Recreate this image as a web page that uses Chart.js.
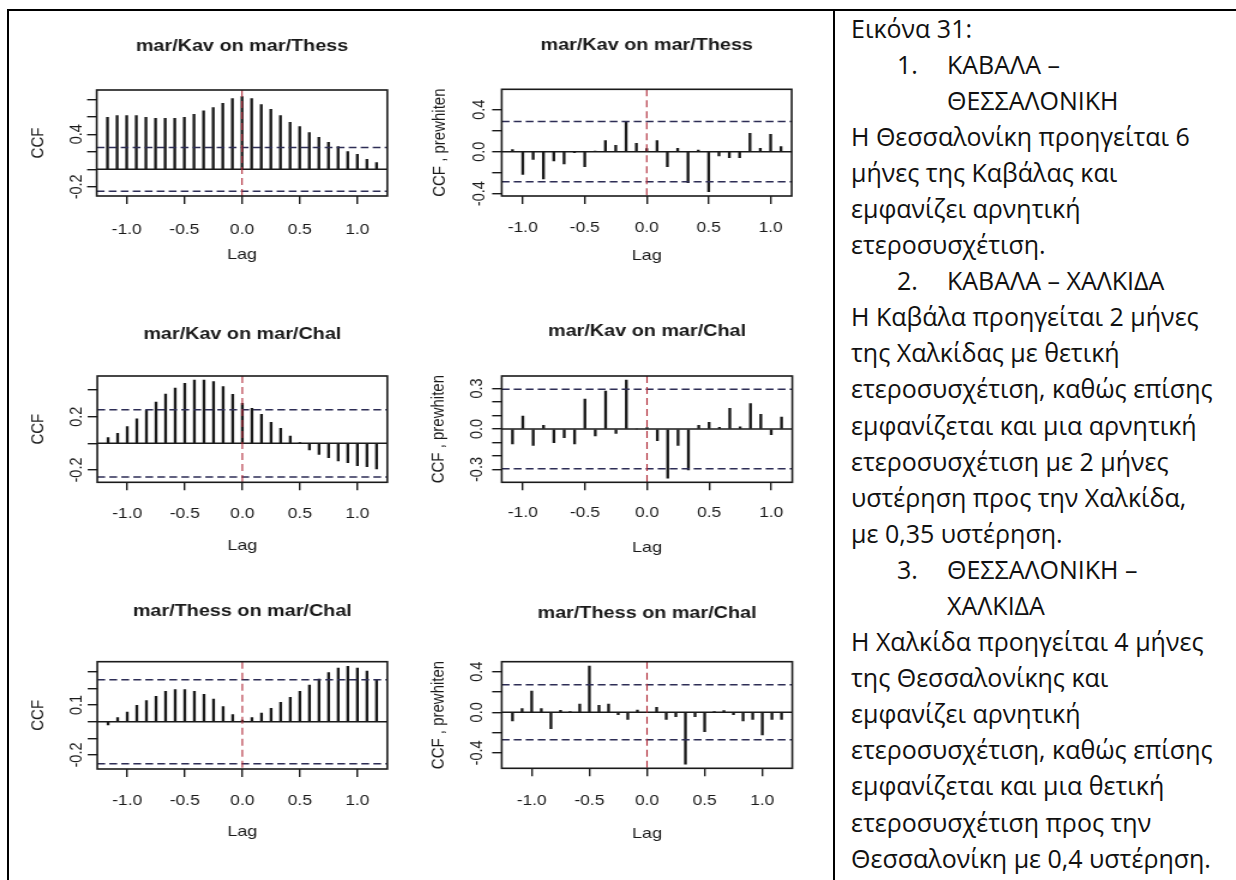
<!DOCTYPE html>
<html>
<head>
<meta charset="utf-8">
<title>CCF</title>
<script src="https://cdn.jsdelivr.net/npm/chart.js@4.4.0/dist/chart.umd.min.js"></script>
<style>
  body { margin: 0; background: #fff; width: 1236px; height: 880px; position: relative; overflow: hidden; }
  .rule { position: absolute; background: #000; }
  .plot { position: absolute; transform-origin: 0 0; }
  .notes { position: absolute; left: 851px; top: 9.5px; font-family: 'Open Sans', sans-serif; font-size: 25px;
           line-height: 36.1px; color: #111; white-space: nowrap; }
  .notes div { position: relative; }
  .notes .item, .notes .cont { padding-left: 96px; }
  .notes .num { position: absolute; left: 46px; }
</style>
</head>
<body>
<div class="rule" style="left:7px;top:9px;width:1229px;height:2px"></div>
<div class="rule" style="left:7px;top:9px;width:2px;height:871px"></div>
<div class="rule" style="left:833px;top:9px;width:2px;height:871px"></div>

<div class="plot" id="w1"><canvas id="c1"></canvas></div>
<div class="plot" id="w2"><canvas id="c2"></canvas></div>
<div class="plot" id="w3"><canvas id="c3"></canvas></div>
<div class="plot" id="w4"><canvas id="c4"></canvas></div>
<div class="plot" id="w5"><canvas id="c5"></canvas></div>
<div class="plot" id="w6"><canvas id="c6"></canvas></div>

<div class="notes">
  <div>Εικόνα 31:</div>
  <div class="item"><span class="num">1.</span>ΚΑΒΑΛΑ –</div>
  <div class="cont">ΘΕΣΣΑΛΟΝΙΚΗ</div>
  <div>Η Θεσσαλονίκη προηγείται 6</div>
  <div>μήνες της Καβάλας και</div>
  <div>εμφανίζει αρνητική</div>
  <div>ετεροσυσχέτιση.</div>
  <div class="item"><span class="num">2.</span>ΚΑΒΑΛΑ – ΧΑΛΚΙΔΑ</div>
  <div>Η Καβάλα προηγείται 2 μήνες</div>
  <div>της Χαλκίδας με θετική</div>
  <div>ετεροσυσχέτιση, καθώς επίσης</div>
  <div>εμφανίζεται και μια αρνητική</div>
  <div>ετεροσυσχέτιση με 2 μήνες</div>
  <div>υστέρηση προς την Χαλκίδα,</div>
  <div>με 0,35 υστέρηση.</div>
  <div class="item"><span class="num">3.</span>ΘΕΣΣΑΛΟΝΙΚΗ –</div>
  <div class="cont">ΧΑΛΚΙΔΑ</div>
  <div>Η Χαλκίδα προηγείται 4 μήνες</div>
  <div>της Θεσσαλονίκης και</div>
  <div>εμφανίζει αρνητική</div>
  <div>ετεροσυσχέτιση, καθώς επίσης</div>
  <div>εμφανίζεται και μια θετική</div>
  <div>ετεροσυσχέτιση προς την</div>
  <div>Θεσσαλονίκη με 0,4 υστέρηση.</div>
</div>

<script>
// lags in months (monthly series, frequency 12)
const lagMonthsFull = [-14, -13, -12, -11, -10, -9, -8, -7, -6, -5, -4, -3, -2, -1, 0,
                       1, 2, 3, 4, 5, 6, 7, 8, 9, 10, 11, 12, 13, 14];
const lagMonthsPw = [-13, -12, -11, -10, -9, -8, -7, -6, -5, -4, -3, -2, -1, 0,
                     1, 2, 3, 4, 5, 6, 7, 8, 9, 10, 11, 12, 13];

// cross-correlations
const ccfKavThess = [0.594, 0.613, 0.613, 0.613, 0.594, 0.583, 0.583, 0.583, 0.594, 0.629, 0.667, 0.705, 0.754, 0.808, 0.83,
                     0.808, 0.739, 0.686, 0.613, 0.537, 0.488, 0.419, 0.366, 0.309, 0.259, 0.202, 0.171, 0.114, 0.076];
const pwKavThess = [0.02, -0.216, -0.073, -0.26, -0.089, -0.117, -0.01, -0.143, 0.005, 0.105, 0.06, 0.279, 0.079, 0.03,
                    0.105, -0.143, 0.032, -0.295, 0.016, -0.381, -0.041, -0.057, -0.057, 0.175, 0.032, 0.165, 0.048];
const ccfKavChal = [0.043, 0.075, 0.125, 0.183, 0.25, 0.31, 0.37, 0.415, 0.45, 0.475, 0.475, 0.463, 0.425, 0.368, 0.30,
                    0.263, 0.218, 0.158, 0.113, 0.055, 0.003, -0.05, -0.083, -0.108, -0.133, -0.145, -0.168, -0.175, -0.193];
const pwKavChal = [-0.111, 0.096, -0.121, 0.027, -0.101, -0.064, -0.111, 0.222, -0.052, 0.281, -0.032, 0.363, 0.0, 0.01,
                   -0.086, -0.365, -0.121, -0.304, 0.027, 0.049, 0.012, 0.153, 0.017, 0.188, 0.109, -0.042, 0.089];
const ccfThessChal = [-0.02, 0.024, 0.058, 0.098, 0.126, 0.152, 0.182, 0.192, 0.192, 0.182, 0.164, 0.136, 0.09, 0.042, 0.01,
                      0.024, 0.052, 0.08, 0.116, 0.146, 0.182, 0.22, 0.256, 0.294, 0.322, 0.332, 0.322, 0.304, 0.25];
const pwThessChal = [-0.085, 0.036, 0.21, 0.036, -0.16, 0.02, 0.005, 0.082, 0.456, 0.069, 0.082, -0.023, -0.069, 0.023, 0.0,
                     0.049, -0.069, -0.043, -0.511, -0.043, -0.19, 0.004, 0.016, -0.023, -0.085, -0.069, -0.223, -0.069, -0.069];

// 95% bounds
const ciLevels = [0.25, 0.287, 0.252, 0.294, 0.252, 0.27];

// axis ticks
const lagTicks = [-1.0, -0.5, 0.0, 0.5, 1.0];
const yTicksKavThess = [-0.2, 0.0, 0.2, 0.4, 0.6, 0.8];
const yLabelsKavThess = [-0.2, 0.4];
const yTicksPw4 = [-0.4, -0.2, 0.0, 0.2, 0.4];
const yLabelsPw4 = [-0.4, 0.0, 0.4];
const yTicksKavChal = [-0.2, 0.0, 0.2, 0.4];
const yLabelsKavChal = [-0.2, 0.2];
const yTicksPwKavChal = [-0.3, -0.2, -0.1, 0.0, 0.1, 0.2, 0.3];
const yLabelsPwKavChal = [-0.3, 0.0, 0.3];
const yTicksThessChal = [-0.2, -0.1, 0.0, 0.1, 0.2, 0.3];
const yLabelsThessChal = [-0.2, 0.1];

const SX = 1.2;   // plots are stretched horizontally
const FONT = "'Liberation Sans', Arial, sans-serif";
const INK = '#1a1a1a';
const TICK_SIZE = 14.5;
const AXIS_SIZE = 15;

// decorations R draws on top of an acf plot
const ccfDecor = {
    id: 'ccfDecor',
    afterDatasetsDraw(chart, args, opts) {
        const ctx = chart.ctx;
        const a = chart.chartArea;
        const x = chart.scales.x;
        const y = chart.scales.y;
        ctx.save();

        // confidence bounds
        ctx.strokeStyle = '#2d2d55';
        ctx.lineWidth = 1.5;
        ctx.setLineDash([6.5, 3.5]);
        [opts.ci, -opts.ci].forEach(v => {
            const py = y.getPixelForValue(v);
            ctx.beginPath(); ctx.moveTo(a.left, py); ctx.lineTo(a.right, py); ctx.stroke();
        });

        // zero line
        ctx.setLineDash([]);
        ctx.strokeStyle = INK;
        ctx.lineWidth = 1.6;
        const y0 = y.getPixelForValue(0);
        ctx.beginPath(); ctx.moveTo(a.left, y0); ctx.lineTo(a.right, y0); ctx.stroke();

        // lag 0 marker
        ctx.strokeStyle = '#b02a38';
        ctx.lineWidth = 1.1;
        ctx.setLineDash([7, 4]);
        const x0 = x.getPixelForValue(0);
        ctx.beginPath(); ctx.moveTo(x0, a.top); ctx.lineTo(x0, a.bottom); ctx.stroke();

        // frame
        ctx.setLineDash([]);
        ctx.strokeStyle = INK;
        ctx.lineWidth = 1.6;
        ctx.strokeRect(a.left, a.top, a.right - a.left, a.bottom - a.top);

        // y labels, parallel to the axis
        ctx.fillStyle = INK;
        ctx.font = TICK_SIZE + 'px ' + FONT;
        ctx.textAlign = 'center';
        ctx.textBaseline = 'middle';
        opts.labels.forEach(v => {
            ctx.save();
            ctx.translate(opts.labelX, y.getPixelForValue(v));
            ctx.rotate(-Math.PI / 2);
            ctx.fillText(v.toFixed(1), 0, 0);
            ctx.restore();
        });
        ctx.restore();
    }
};

function drawPanel(n, p) {
    const wrap = document.getElementById('w' + n);
    wrap.style.left = p.left + 'px';
    wrap.style.top = p.top + 'px';
    wrap.style.transform = 'scaleX(' + SX + ')';

    const canvas = document.getElementById('c' + n);
    canvas.width = p.w;
    canvas.height = p.h;

    const toX = px => (px - p.left) / SX;
    const LH_TITLE = 16.5 * 1.2;
    const LH_TICK = TICK_SIZE * 1.2;
    const LH_AXIS = AXIS_SIZE * 1.2;
    const lastLag = p.months[p.months.length - 1] / 12;
    const xLim = lastLag * 1.08;

    const grid = { display: true, drawOnChartArea: false, drawTicks: true, tickLength: 8,
                   color: INK, lineWidth: 1.4, offset: false };

    return new Chart(canvas, {
        type: 'bar',
        data: {
            datasets: [{
                data: p.months.map((m, i) => ({ x: m / 12, y: p.values[i] })),
                backgroundColor: INK,
                borderWidth: 0,
                barThickness: 1.7
            }]
        },
        options: {
            responsive: false,
            animation: false,
            devicePixelRatio: 1,
            layout: { padding: { left: 0, top: 0, bottom: 0, right: p.w - toX(p.boxR) } },
            plugins: {
                legend: { display: false },
                tooltip: { enabled: false },
                title: {
                    display: true,
                    text: p.title,
                    fullSize: false,
                    color: INK,
                    font: { family: FONT, size: 16.5, weight: 'bold', lineHeight: 1.2 },
                    padding: { top: p.titleY - p.top - LH_TITLE / 2, bottom: p.boxT - p.titleY - LH_TITLE / 2 }
                },
                ccfDecor: { ci: p.ci, labels: p.yLabels, labelX: toX(p.labX) }
            },
            scales: {
                x: {
                    type: 'linear',
                    min: -xLim,
                    max: xLim,
                    offset: false,
                    afterBuildTicks: s => { s.ticks = lagTicks.map(v => ({ value: v })); },
                    afterFit: s => { s.height = p.h - (p.boxB - p.top); },
                    grid: grid,
                    border: { display: false },
                    ticks: {
                        autoSkip: false, maxRotation: 0, color: INK,
                        font: { family: FONT, size: TICK_SIZE, lineHeight: 1.2 },
                        padding: p.tickY - p.boxB - 8 - LH_TICK / 2,
                        callback: v => v.toFixed(1)
                    },
                    title: {
                        display: true, text: 'Lag', color: INK,
                        font: { family: FONT, size: AXIS_SIZE, lineHeight: 1.2 },
                        padding: { top: 0, bottom: p.top + p.h - p.lagY - LH_AXIS / 2 }
                    }
                },
                y: {
                    min: p.yMin,
                    max: p.yMax,
                    afterBuildTicks: s => { s.ticks = p.yTicks.map(v => ({ value: v })); },
                    afterFit: s => { s.width = toX(p.boxL); },
                    grid: grid,
                    border: { display: false },
                    ticks: { display: false },
                    title: {
                        display: true, text: p.yTitle, color: INK,
                        font: { family: FONT, size: AXIS_SIZE, lineHeight: 1.2 },
                        padding: { top: toX(p.yTitleX) - LH_AXIS / 2, bottom: 0 }
                    }
                }
            }
        },
        plugins: [ccfDecor]
    });
}

drawPanel(1, { left: 12, top: 12, w: 335, h: 270, boxL: 96.7, boxR: 387.3, boxT: 90, boxB: 196,
    titleY: 46.7, tickY: 230, lagY: 255, labX: 76.7, yTitleX: 38,
    title: 'mar/Kav on mar/Thess', yTitle: 'CCF', months: lagMonthsFull, values: ccfKavThess,
    ci: ciLevels[0], yMin: -0.305, yMax: 0.906, yTicks: yTicksKavThess, yLabels: yLabelsKavThess });

drawPanel(2, { left: 416, top: 12, w: 340, h: 270, boxL: 501.7, boxR: 791.7, boxT: 89.3, boxB: 196,
    titleY: 45.8, tickY: 228, lagY: 256, labX: 480, yTitleX: 440,
    title: 'mar/Kav on mar/Thess', yTitle: 'CCF , prewhiten', months: lagMonthsPw, values: pwKavThess,
    ci: ciLevels[1], yMin: -0.422, yMax: 0.594, yTicks: yTicksPw4, yLabels: yLabelsPw4 });

drawPanel(3, { left: 12, top: 292, w: 335, h: 280, boxL: 97.3, boxR: 387.3, boxT: 376, boxB: 482.3,
    titleY: 334.2, tickY: 514, lagY: 545.5, labX: 76.7, yTitleX: 38,
    title: 'mar/Kav on mar/Chal', yTitle: 'CCF', months: lagMonthsFull, values: ccfKavChal,
    ci: ciLevels[2], yMin: -0.2925, yMax: 0.505, yTicks: yTicksKavChal, yLabels: yLabelsKavChal });

drawPanel(4, { left: 416, top: 292, w: 340, h: 280, boxL: 501.7, boxR: 792.3, boxT: 376, boxB: 482.3,
    titleY: 331.7, tickY: 513.3, lagY: 548, labX: 477, yTitleX: 439,
    title: 'mar/Kav on mar/Chal', yTitle: 'CCF , prewhiten', months: lagMonthsPw, values: pwKavChal,
    ci: ciLevels[3], yMin: -0.395, yMax: 0.393, yTicks: yTicksPwKavChal, yLabels: yLabelsPwKavChal });

drawPanel(5, { left: 12, top: 575, w: 335, h: 300, boxL: 97.3, boxR: 387.3, boxT: 661.7, boxB: 769,
    titleY: 611.7, tickY: 800.7, lagY: 832, labX: 77, yTitleX: 38,
    title: 'mar/Thess on mar/Chal', yTitle: 'CCF', months: lagMonthsFull, values: ccfThessChal,
    ci: ciLevels[4], yMin: -0.284, yMax: 0.36, yTicks: yTicksThessChal, yLabels: yLabelsThessChal });

drawPanel(6, { left: 416, top: 575, w: 340, h: 300, boxL: 501.7, boxR: 792.3, boxT: 661.7, boxB: 768.3,
    titleY: 613, tickY: 800.7, lagY: 834, labX: 477, yTitleX: 439,
    title: 'mar/Thess on mar/Chal', yTitle: 'CCF , prewhiten', months: lagMonthsFull, values: pwThessChal,
    ci: ciLevels[5], yMin: -0.551, yMax: 0.498, yTicks: yTicksPw4, yLabels: yLabelsPw4 });
</script>
</body>
</html>
